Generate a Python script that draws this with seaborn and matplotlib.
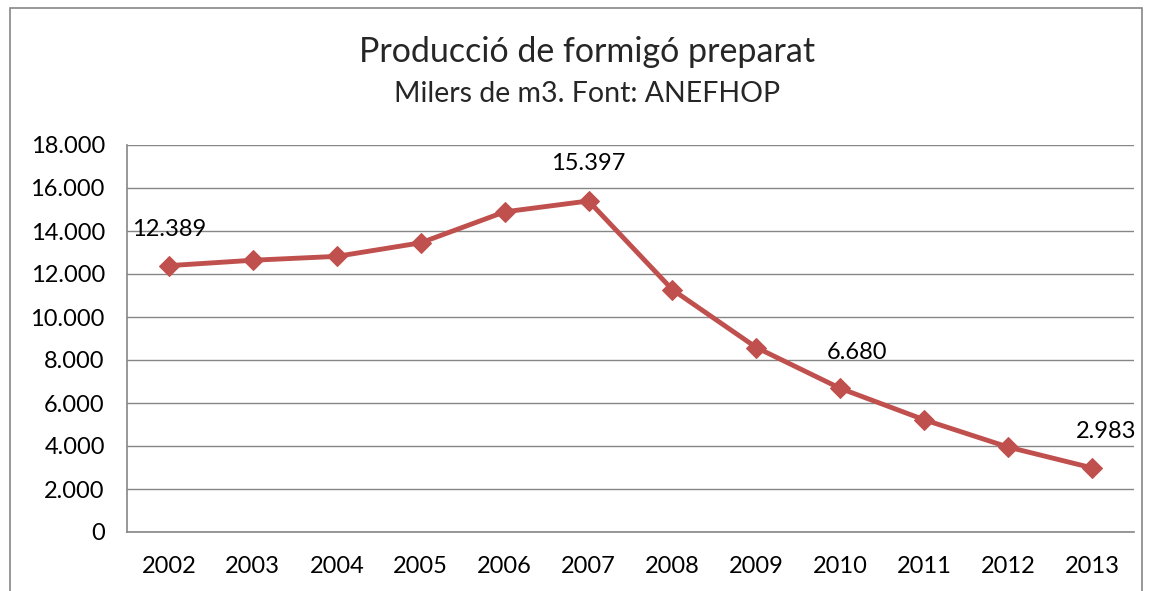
import matplotlib

matplotlib.use("Agg")

import matplotlib.pyplot as plt
import numpy as np
import pandas as pd
import seaborn as sns
from matplotlib.patches import Rectangle
from matplotlib.ticker import FuncFormatter, FixedLocator

years = ["2002", "2003", "2004", "2005", "2006", "2007",
         "2008", "2009", "2010", "2011", "2012", "2013"]
production = [12389, 12640, 12820, 13450, 14890, 15397,
              11270, 8580, 6680, 5220, 3950, 2983]
labelled_years = ["2002", "2007", "2010", "2013"]

title = "Producció de formigó preparat"
subtitle = "Milers de m3. Font: ANEFHOP"

# label offsets in points (dx, dy)
label_offsets = {"2002": (0, 26), "2007": (0, 27), "2010": (12, 26), "2013": (10, 26)}

line_color = "#C0504D"
grid_color = "#868686"


def thousands(v, _pos=None):
    return f"{int(round(v)):,}".replace(",", ".")


df = pd.DataFrame({"year": years, "value": production})
df["pos"] = np.arange(len(df))

sns.set_theme(style="white")
plt.rcParams["font.family"] = ["Lato", "DejaVu Sans"]

fig = plt.figure(figsize=(11.51, 5.91), dpi=100)
ax = fig.add_axes([127 / 1151, 1 - 532 / 591, (1134 - 127) / 1151, (532 - 145) / 591])

sns.lineplot(data=df, x="pos", y="value", ax=ax, color=line_color, linewidth=3.5,
             marker="D", markersize=10, markeredgecolor=line_color, zorder=3)

ax.set_xlim(-0.5, len(years) - 0.5)
ax.set_ylim(0, 18000)
ax.set_yticks(np.arange(0, 18001, 2000))
ax.yaxis.set_major_formatter(FuncFormatter(thousands))

ax.xaxis.set_major_locator(FixedLocator(np.arange(-0.5, len(years), 1.0)))
ax.xaxis.set_major_formatter(FuncFormatter(lambda v, p: ""))
ax.xaxis.set_minor_locator(FixedLocator(df["pos"].values))
ax.set_xticklabels(years, minor=True)

ax.tick_params(axis="x", which="major", direction="out", length=6, width=1, color=grid_color)
ax.tick_params(axis="x", which="minor", length=0, pad=17, labelsize=17, labelcolor="black")
ax.tick_params(axis="y", direction="out", length=6, width=1, color=grid_color, pad=10,
               labelsize=17, labelcolor="black")

ax.grid(axis="y", color=grid_color, linewidth=1)
ax.set_axisbelow(True)
for side in ["top", "right"]:
    ax.spines[side].set_visible(False)
for side in ["left", "bottom"]:
    ax.spines[side].set_color(grid_color)
    ax.spines[side].set_linewidth(1.2)

ax.set_xlabel("")
ax.set_ylabel("")

for _, row in df[df["year"].isin(labelled_years)].iterrows():
    dx, dy = label_offsets[row["year"]]
    ax.annotate(thousands(row["value"]), (row["pos"], row["value"]),
                xytext=(dx, dy), textcoords="offset points",
                ha="center", va="center", fontsize=17, color="black")

fig.text(587 / 1151, 1 - 52 / 591, title, ha="center", va="center", fontsize=24.5)
fig.text(587 / 1151, 1 - 94 / 591, subtitle, ha="center", va="center", fontsize=20.5)

fig.patches.append(Rectangle((10 / 1151, -0.05), (1142 - 10) / 1151, 1.05 - 8 / 591,
                             transform=fig.transFigure, fill=False,
                             edgecolor=grid_color, linewidth=1.2))

fig.savefig("out.png", dpi=100)
